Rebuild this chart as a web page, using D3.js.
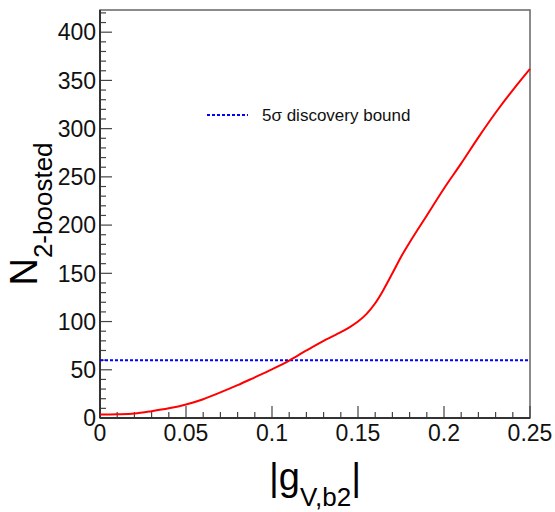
<!DOCTYPE html>
<html>
<head>
<meta charset="utf-8">
<script src="https://cdn.jsdelivr.net/npm/d3@7"></script>
<style>
  body { margin: 0; background: #fff; }
  svg { display: block; font-family: "Liberation Sans", Arial, Helvetica, sans-serif; }
</style>
</head>
<body>
<div id="chart"></div>
<script>
// valores
const gValues = [0, 0.01, 0.02, 0.03, 0.04, 0.05, 0.06, 0.07, 0.08, 0.09, 0.10, 0.11, 0.12, 0.13, 0.14, 0.145, 0.15, 0.155, 0.16, 0.165, 0.17, 0.175, 0.18, 0.19, 0.20, 0.21, 0.22, 0.23, 0.24, 0.25];
const nBoosted = [3.5, 3.8, 4.6, 7, 10, 14, 19.5, 26.5, 34, 42.2, 50.5, 59.5, 70, 80, 89, 94, 100, 108, 119, 133.5, 150, 167, 182, 210, 238, 264, 291, 316.5, 340, 362];
const discoveryBound = 60;
const xTicks = [0, 0.05, 0.1, 0.15, 0.2, 0.25];
const xTickLabels = ["0", "0.05", "0.1", "0.15", "0.2", "0.25"];
const yTicks = [0, 50, 100, 150, 200, 250, 300, 350, 400];
const legendLabel = "5σ discovery bound";

const width = 555, height = 512;
const m = { left: 100, right: 530, top: 10, bottom: 418 };

const svg = d3.select("#chart").append("svg").attr("width", width).attr("height", height);

const x = d3.scaleLinear().domain([0, 0.25]).range([m.left, m.right]);
const y = d3.scaleLinear().domain([0, 423]).range([m.bottom, m.top]);

// marco
svg.append("rect")
  .attr("x", m.left).attr("y", m.top)
  .attr("width", m.right - m.left).attr("height", m.bottom - m.top)
  .attr("fill", "none").attr("stroke", "#666").attr("stroke-width", 1.5);

// ticks menores y mayores (hacia adentro, estilo ROOT)
const xMinor = d3.range(0, 26).map((i) => i / 100);
svg.append("g").selectAll("line").data(xMinor).join("line")
  .attr("x1", (d) => x(d)).attr("x2", (d) => x(d))
  .attr("y1", m.bottom).attr("y2", (d, i) => m.bottom - (i % 5 === 0 ? 12 : 6))
  .attr("stroke", "#444").attr("stroke-width", 1.2);

const yMinor = d3.range(0, 43).map((i) => i * 10);
svg.append("g").selectAll("line").data(yMinor).join("line")
  .attr("y1", (d) => y(d)).attr("y2", (d) => y(d))
  .attr("x1", m.left).attr("x2", (d, i) => m.left + (i % 5 === 0 ? 12 : 6))
  .attr("stroke", "#444").attr("stroke-width", 1.2);

// ejes principales
svg.append("line").attr("x1", m.left).attr("x2", m.left).attr("y1", m.top).attr("y2", m.bottom)
  .attr("stroke", "#333").attr("stroke-width", 2);
svg.append("line").attr("x1", m.left).attr("x2", m.right).attr("y1", m.bottom).attr("y2", m.bottom)
  .attr("stroke", "#333").attr("stroke-width", 2);

// etiquetas
svg.append("g").selectAll("text").data(xTicks).join("text")
  .attr("x", (d) => x(d)).attr("y", 441)
  .attr("text-anchor", "middle").attr("font-size", 23).attr("fill", "#111")
  .text((d, i) => xTickLabels[i]);

svg.append("g").selectAll("text").data(yTicks).join("text")
  .attr("x", 96).attr("y", (d) => y(d)).attr("dy", "0.36em")
  .attr("text-anchor", "end").attr("font-size", 23).attr("fill", "#111")
  .text((d) => d);

// títulos de ejes
const xTitle = svg.append("text")
  .attr("x", (m.left + m.right) / 2).attr("y", 490)
  .attr("text-anchor", "middle").attr("font-size", 38).attr("fill", "#000");
xTitle.append("tspan").text("|g");
xTitle.append("tspan").attr("font-size", 26).attr("dy", 16).text("V,b2");
xTitle.append("tspan").attr("dy", -16).text("|");

const yTitle = svg.append("text")
  .attr("transform", `translate(37, ${(m.top + m.bottom) / 2}) rotate(-90)`)
  .attr("text-anchor", "middle").attr("font-size", 38).attr("fill", "#000");
yTitle.append("tspan").text("N");
yTitle.append("tspan").attr("font-size", 26).attr("dy", 15).text("2-boosted");

// línea de descubrimiento
svg.append("line")
  .attr("x1", m.left).attr("x2", m.right)
  .attr("y1", y(discoveryBound)).attr("y2", y(discoveryBound))
  .attr("stroke", "#0000ff").attr("stroke-width", 2).attr("stroke-dasharray", "3,2");

// curva
const line = d3.line().x((d, i) => x(gValues[i])).y((d) => y(d)).curve(d3.curveCatmullRom.alpha(0.5));
svg.append("path").datum(nBoosted)
  .attr("d", line).attr("fill", "none").attr("stroke", "#ff0000").attr("stroke-width", 2);

// leyenda
svg.append("line").attr("x1", 207).attr("x2", 248).attr("y1", 115).attr("y2", 115)
  .attr("stroke", "#0000ff").attr("stroke-width", 2).attr("stroke-dasharray", "3,2");
svg.append("text").attr("x", 262).attr("y", 115).attr("dy", "0.35em")
  .attr("font-size", 17).attr("fill", "#111").text(legendLabel);
</script>
</body>
</html>
